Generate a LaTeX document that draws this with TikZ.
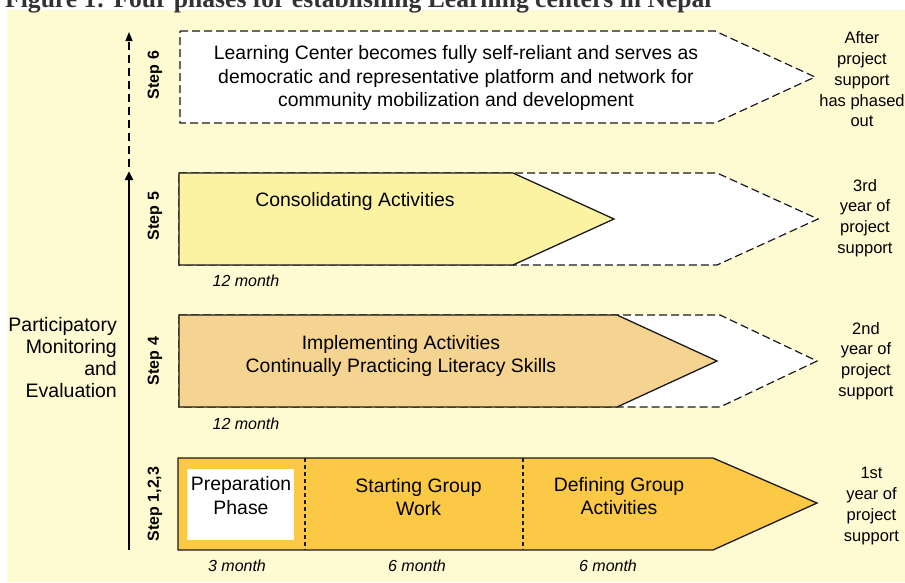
\documentclass[tikz,border=0pt]{standalone}
\usepackage{fontspec}
\setmainfont{Liberation Sans}
\newfontfamily\titlefont{Liberation Serif}
\usetikzlibrary{arrows.meta}
\definecolor{bgcream}{HTML}{FEFAD2}
\definecolor{stepfive}{HTML}{FBF3A2}
\definecolor{stepfour}{HTML}{F4D490}
\definecolor{stepone}{HTML}{FBC945}
\definecolor{edgecol}{HTML}{1A1A1A}
\definecolor{titlecol}{HTML}{333333}
\tikzset{
  outline/.style={draw=edgecol, line width=1.3pt, line join=miter},
  dashout/.style={draw=edgecol, line width=1.2pt, dash pattern=on 8pt off 4pt, fill=white},
  divider/.style={draw=edgecol, line width=1.2pt, dash pattern=on 4pt off 3pt},
  maintext/.style={font=\fontsize{19.4}{23.5}\selectfont, align=center, inner sep=0pt},
  sidetext/.style={font=\fontsize{16.5}{20.8}\selectfont, align=center, inner sep=0pt},
  monthtext/.style={font=\fontsize{16}{19}\selectfont\itshape, inner sep=0pt},
  steplabel/.style={font=\fontsize{16}{19}\selectfont\bfseries, rotate=90, inner sep=0pt},
}
\begin{document}
\begin{tikzpicture}[x=1pt,y=-1pt]
\useasboundingbox (0,0) rectangle (905,582);
\clip (0,0) rectangle (905,582);
% background
\fill[bgcream] (7,10) rectangle (905,582);
% title (cut off at top, as in the reference)
\node[anchor=base west, inner sep=0pt, text=titlecol, font=\titlefont\fontsize{25.6}{28}\selectfont\bfseries] (title) at (5,7) {Figure 1: Four phases for establishing Learning centers in Nepal};

% Step 6
\path[dashout] (180,31) -- (715,31) -- (815,77) -- (715,123) -- (180,123) -- cycle;
\node[maintext] (s6text) at (456,78) {Learning Center becomes fully self-reliant and serves as\\democratic and representative platform and network for\\community mobilization and development};
\node[sidetext] (s6side) at (862,79.5) {After\\project\\support\\has phased\\out};

% Step 5
\path[dashout] (179,173) -- (717,173) -- (818,219) -- (717,265) -- (179,265) -- cycle;
\path[outline, fill=stepfive] (179,173) -- (513,173) -- (614,219) -- (513,265) -- (179,265) -- cycle;
\node[maintext] (s5text) at (355,201.5) {Consolidating Activities};
\node[monthtext] (s5month) at (246,281) {12 month};
\node[sidetext] (s5side) at (865,218) {3rd\\year of\\project\\support};

% Step 4
\path[dashout] (179,315) -- (720,315) -- (817,361) -- (720,407) -- (179,407) -- cycle;
\path[outline, fill=stepfour] (179,315) -- (617,315) -- (717,361) -- (617,407) -- (179,407) -- cycle;
\node[maintext] (s4text) at (401,356) {Implementing Activities\\Continually Practicing Literacy Skills};
\node[monthtext] (s4month) at (246,424) {12 month};
\node[sidetext] (s4side) at (866,361) {2nd\\year of\\project\\support};

% Step 1,2,3
\path[outline, fill=stepone] (178,458) -- (713,458) -- (817,503) -- (713,550) -- (178,550) -- cycle;
\coordinate (d1t) at (305,458); \coordinate (d1b) at (305,550);
\coordinate (d2t) at (523,458); \coordinate (d2b) at (523,550);
\draw[divider] (d1t) -- (d1b);
\draw[divider] (d2t) -- (d2b);
\fill[white] (187,469) rectangle (294,540);
\node[maintext] (prep) at (241,495.5) {Preparation\\Phase};
\node[maintext] (start) at (418.5,497) {Starting Group\\Work};
\node[maintext] (define) at (619,496) {Defining Group\\Activities};
\node[monthtext] (m3) at (237,566) {3 month};
\node[monthtext] (m6a) at (417,566) {6 month};
\node[monthtext] (m6b) at (608,566) {6 month};
\node[sidetext] (s1side) at (871.5,506) {1st\\year of\\project\\support};

% step labels
\node[steplabel] (l6) at (155,75) {Step 6};
\node[steplabel] (l5) at (155,216) {Step 5};
\node[steplabel] (l4) at (155,361) {Step 4};
\node[steplabel] (l1) at (155,504) {Step 1,2,3};

% left arrows
\coordinate (abot) at (129,550);
\coordinate (amid) at (129,171);
\coordinate (adb) at (129,167);
\coordinate (atop) at (129,32);
\draw[line width=2.3pt, -{Triangle[length=9pt,width=8pt]}] (abot) -- (amid);
\draw[line width=1.3pt, dash pattern=on 8pt off 5pt, -{Triangle[length=9pt,width=7pt]}] (adb) -- (atop);

\node[font=\fontsize{19.5}{22}\selectfont, align=right, inner sep=0pt, anchor=east] (pme) at (117,358) {Participatory\\Monitoring\\and\\Evaluation};
\end{tikzpicture}
\end{document}
